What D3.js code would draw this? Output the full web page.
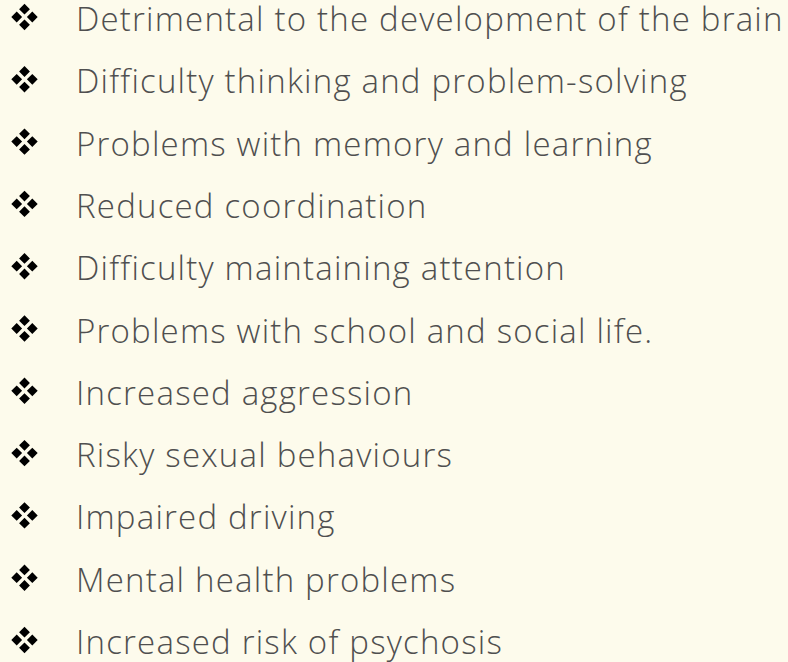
<!DOCTYPE html>
<html>
    <head>
        <meta charset="utf-8" />
        <script src="https://d3js.org/d3.v7.min.js"></script>
        <style type="text/css">
            body {
                margin: 0;
                background-color: #fdfbec;
            }

            svg#mainSvg {
                display: block;
                background-color: #fdfbec;
            }

            text.item {
                font-family: "Open Sans", Lato, sans-serif;
                font-size: 33px;
                font-weight: 300;
                letter-spacing: 1.2px;
                font-variant-ligatures: none;
                fill: #4f4f4f;
            }

            path.bullet {
                fill: #000;
            }
        </style>
    </head>

    <body>
        <svg id="mainSvg" width="788" height="662"></svg>

        <script type="text/javascript">
            // The list items, top to bottom
            const items = [
                "Detrimental to the development of the brain",
                "Difficulty thinking and problem-solving",
                "Problems with memory and learning",
                "Reduced coordination",
                "Difficulty maintaining attention",
                "Problems with school and social life.",
                "Increased aggression",
                "Risky sexual behaviours",
                "Impaired driving",
                "Mental health problems",
                "Increased risk of psychosis",
            ];

            const svg = d3.select("#mainSvg");

            // Baseline of each row
            const y = d3.scalePoint().domain(items).range([31, 654]);

            const rows = svg
                .append("g")
                .selectAll("g")
                .data(items)
                .join("g")
                .attr("transform", (d) => "translate(0," + y(d) + ")");

            // Four-diamond bullet, drawn as a path
            const off = 7.8,
                hs = 5.4;
            const diamond = (cx, cy) =>
                "M" + cx + "," + (cy - hs) +
                "L" + (cx + hs) + "," + cy +
                "L" + cx + "," + (cy + hs) +
                "L" + (cx - hs) + "," + cy + "Z";

            rows.append("path")
                .attr("class", "bullet")
                .attr("d", () => {
                    const cx = 24.5,
                        cy = -14;
                    return (
                        diamond(cx, cy - off) +
                        diamond(cx - off, cy) +
                        diamond(cx + off, cy) +
                        diamond(cx, cy + off)
                    );
                });

            rows.append("text")
                .attr("class", "item")
                .attr("x", 76)
                .attr("y", 0)
                .text((d) => d);
        </script>
    </body>
</html>
